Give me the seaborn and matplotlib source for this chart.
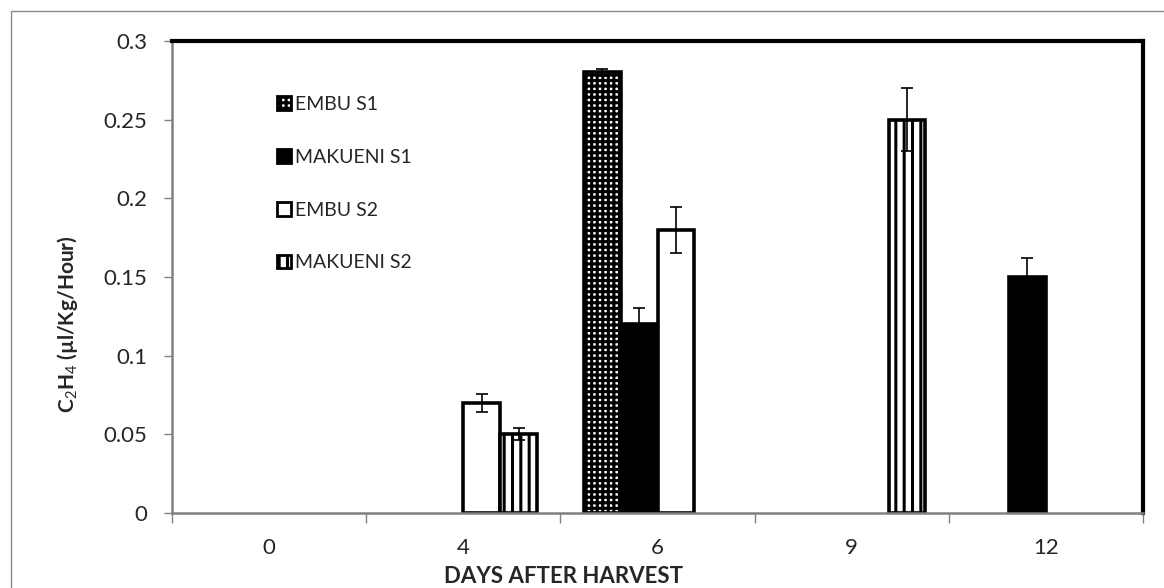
import numpy as np
import pandas as pd
import matplotlib
matplotlib.use("Agg")
import matplotlib.pyplot as plt
import seaborn as sns
from matplotlib.patches import Patch, Rectangle
from matplotlib.ticker import FixedLocator

# ---------------- data ----------------
days = ["0", "4", "6", "9", "12"]
series = ["EMBU S1", "MAKUENI S1", "EMBU S2", "MAKUENI S2"]
embu_s1 = [np.nan, np.nan, 0.28, np.nan, np.nan]
embu_s1_err = [np.nan, np.nan, 0.002, np.nan, np.nan]
makueni_s1 = [np.nan, np.nan, 0.12, np.nan, 0.15]
makueni_s1_err = [np.nan, np.nan, 0.01, np.nan, 0.012]
embu_s2 = [np.nan, 0.07, 0.18, np.nan, np.nan]
embu_s2_err = [np.nan, 0.0055, 0.0145, np.nan, np.nan]
makueni_s2 = [np.nan, 0.05, np.nan, 0.25, np.nan]
makueni_s2_err = [np.nan, 0.0038, np.nan, 0.02, np.nan]
yticks = [0, 0.05, 0.1, 0.15, 0.2, 0.25, 0.3]
ytick_labels = ["0", "0.05", "0.1", "0.15", "0.2", "0.25", "0.3"]

values = {"EMBU S1": embu_s1, "MAKUENI S1": makueni_s1,
          "EMBU S2": embu_s2, "MAKUENI S2": makueni_s2}
errors = {"EMBU S1": embu_s1_err, "MAKUENI S1": makueni_s1_err,
          "EMBU S2": embu_s2_err, "MAKUENI S2": makueni_s2_err}

rows = []
for s in series:
    for d, v in zip(days, values[s]):
        if not np.isnan(v):
            rows.append({"day": d, "series": s, "value": v})
df = pd.DataFrame(rows)

# ---------------- style ----------------
sns.set_style("white")
plt.rcParams["font.family"] = ["Lato", "DejaVu Sans"]
plt.rcParams["mathtext.fontset"] = "custom"
plt.rcParams["mathtext.rm"] = "Lato"
plt.rcParams["mathtext.bf"] = "Lato:bold"
plt.rcParams["hatch.linewidth"] = 2.2

fig = plt.figure(figsize=(11.64, 5.88), dpi=100)
ax = fig.add_axes([172 / 1164, 1 - 513 / 588, (1143 - 172) / 1164, (513 - 41) / 588])

face = {"EMBU S1": "white", "MAKUENI S1": "black", "EMBU S2": "white", "MAKUENI S2": "white"}
hatch = {"EMBU S1": "+++", "MAKUENI S1": None, "EMBU S2": None, "MAKUENI S2": "||"}

sns.barplot(data=df, x="day", y="value", hue="series", order=days, hue_order=series,
            width=0.76, errorbar=None, palette=[face[s] for s in series],
            edgecolor="black", linewidth=2.6, saturation=1, legend=False, ax=ax)

for s, cont in zip(series, ax.containers):
    for bar in cont:
        bar.set_facecolor(face[s])
        bar.set_edgecolor("black")
        if hatch[s]:
            bar.set_hatch(hatch[s])
        xc = bar.get_x() + bar.get_width() / 2
        k = int(round(xc))
        err = errors[s][k]
        if not np.isnan(err):
            ax.errorbar(xc, bar.get_height(), yerr=err, fmt="none", ecolor="black",
                        elinewidth=1.2, capsize=4.3, capthick=1.2, zorder=5)

# ---------------- axes ----------------
ax.set_xlim(-0.5, 4.5)
ax.set_ylim(0, 0.3)
ax.yaxis.set_major_locator(FixedLocator(yticks))
ax.set_yticklabels(ytick_labels)
ax.xaxis.set_minor_locator(FixedLocator([-0.5, 0.5, 1.5, 2.5, 3.5, 4.5]))
ax.tick_params(axis="y", which="major", length=6, width=1, color="#808080",
               labelsize=16, pad=12, direction="out", left=True)
ax.tick_params(axis="x", which="major", length=0, labelsize=16, pad=18, bottom=True)
ax.tick_params(axis="x", which="minor", length=7, width=1, color="#808080",
               direction="out", bottom=True)

for side in ["top", "right"]:
    ax.spines[side].set_color("black")
    ax.spines[side].set_linewidth(3)
for side in ["left", "bottom"]:
    ax.spines[side].set_color("#808080")
    ax.spines[side].set_linewidth(1.8)

ax.set_xlabel("DAYS AFTER HARVEST", fontsize=16, fontweight="bold")
ax.xaxis.set_label_coords((564 - 172) / 971, (513 - 566) / 472)
ax.set_ylabel(r"$\mathbf{C}_2\mathbf{H}_4$ (µl/Kg/Hour)", fontsize=15, fontweight="bold")
ax.yaxis.label.set_va("center")
ax.yaxis.set_label_coords((68 - 172) / 971, (513 - 324) / 472)

handles = [Patch(facecolor=face[s], edgecolor="black", hatch=hatch[s], linewidth=2.0, label=s)
           for s in series]
leg = ax.legend(handles=handles, loc="upper left",
                bbox_to_anchor=((277 - 172) / 971, (513 - 96) / 472),
                frameon=False, fontsize=14, handlelength=0.7, handleheight=0.7,
                handletextpad=0.25, labelspacing=1.84, borderpad=0, borderaxespad=0)

# outer chart border
fig.add_artist(Rectangle((11 / 1164, -0.01), 1.0, 1 - 11 / 588 + 0.01, fill=False,
                         edgecolor="#8c8c8c", linewidth=1.0, transform=fig.transFigure,
                         clip_on=False))

fig.savefig("out.png", dpi=100)
